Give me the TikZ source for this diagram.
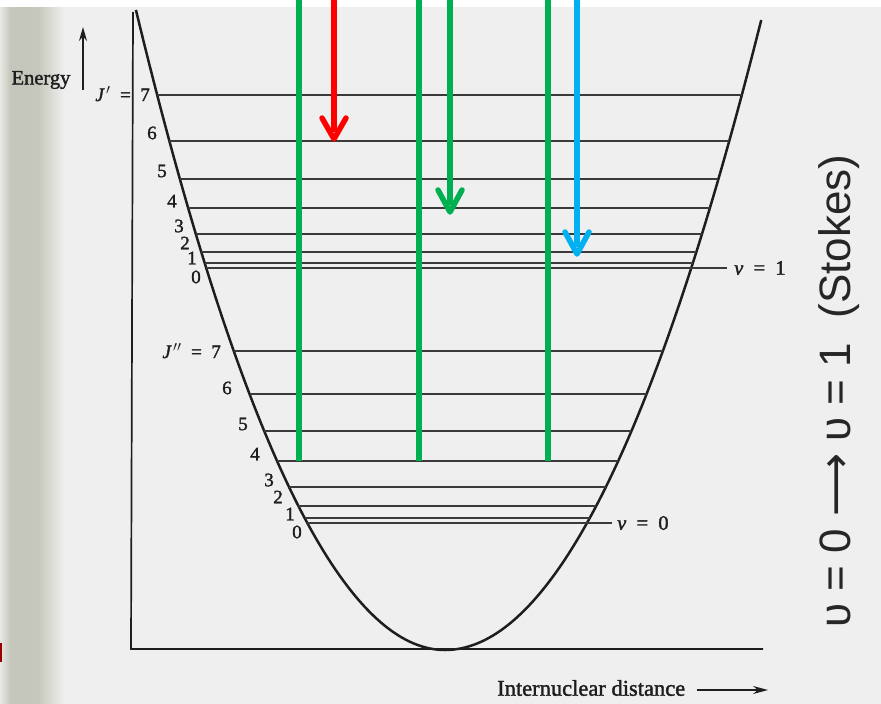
\documentclass[tikz,border=0pt]{standalone}
\usepackage{fontspec}
\setmainfont{Liberation Serif}
\newfontfamily\scan{Liberation Serif}[FakeBold=1.6]
\newfontfamily\sansf{Liberation Sans}
\newfontfamily\dejavu{DejaVu Sans}
\usetikzlibrary{arrows.meta}
\definecolor{paper}{HTML}{EFEFEF}
\definecolor{shadow}{HTML}{C6C7BC}
\definecolor{ink}{HTML}{1E1E1E}
\definecolor{lev}{HTML}{3A3A3A}
\definecolor{gr}{HTML}{00B050}
\definecolor{rd}{HTML}{FF0000}
\definecolor{bl}{HTML}{00B0F0}
\newcommand{\eqsp}{\hspace{0.5em}}
\tikzset{
  level/.style={draw=lev, line width=1.3pt},
  curve/.style={draw=ink, line width=2.5pt, line join=round},
  axis/.style={draw=ink, line width=1.7pt},
  num/.style={inner sep=0pt, font=\scan\fontsize{19}{19}\selectfont, text=ink},
  lbl/.style={inner sep=0pt, font=\scan\fontsize{20.5}{20.5}\selectfont, text=ink},
  beam/.style={line width=5.5pt, line cap=round, line join=round},
}
\begin{document}
\begin{tikzpicture}[x=1pt,y=-1pt]
\useasboundingbox (0,0) rectangle (881,704);
% paper
\fill[white] (0,0) rectangle (881,704);
\fill[paper] (0,7) rectangle (881,704);
\shade[left color=white!60!shadow, right color=shadow] (0,7) rectangle (10,704);
\fill[shadow] (10,7) rectangle (38,704);
\shade[left color=shadow, right color=paper] (38,7) rectangle (64,704);
\fill[red!60!black] (0,643) rectangle (2,662);
% axes
\coordinate (ytop) at (133,12);
\coordinate (orig) at (131,649);
\coordinate (xend) at (763,649);
\draw[axis] (ytop) -- (orig) -- (xend);
% energy arrow
\coordinate (ea) at (83,90);
\coordinate (eb) at (83,27);
\draw[axis, line width=1.6pt, -{Stealth[length=14pt,width=8pt]}] (ea) -- (eb);
\node[lbl] (energy) at (41,80) {Energy};
% potential curve
\draw[curve] plot[domain=25.3:0, samples=80] ({445-12.217*\x},{650-\x*\x})
            -- plot[domain=0:25.1, samples=80] ({445+12.599*\x},{650-\x*\x});
% upper levels J'
\foreach \yy in {95,141,179,208,234,252,263}
  \draw[level] ({445-12.217*sqrt(650-\yy)},\yy) -- ({445+12.599*sqrt(650-\yy)},\yy);
\coordinate (vone) at (727,268);
\draw[level] ({445-12.217*sqrt(382)},268) -- (vone);
% lower levels J''
\foreach \yy in {351,394,431,461,487,506,518}
  \draw[level] ({445-12.217*sqrt(650-\yy)},\yy) -- ({445+12.599*sqrt(650-\yy)},\yy);
\coordinate (vzero) at (612,523);
\draw[level] ({445-12.217*sqrt(127)},523) -- (vzero);
% labels upper
\node[num, anchor=east] (Jp) at (150,94) {\textit{J}\kern1.5pt$'$\eqsp=\eqsp7};
\node[num] (u6) at (152,133) {6};
\node[num] (u5) at (162,171) {5};
\node[num] (u4) at (172,201) {4};
\node[num] (u3) at (179,226) {3};
\node[num] (u2) at (185,243) {2};
\node[num] (u1) at (192,258) {1};
\node[num] (u0) at (196,277) {0};
% labels lower
\node[num, anchor=east] (Jpp) at (221,351) {\textit{J}\kern1.5pt$''$\eqsp=\eqsp7};
\node[num] (l6) at (227,388) {6};
\node[num] (l5) at (243,424) {5};
\node[num] (l4) at (255,454) {4};
\node[num] (l3) at (269,480) {3};
\node[num] (l2) at (278,497) {2};
\node[num] (l1) at (290,514) {1};
\node[num] (l0) at (297,532) {0};
% v labels
\node[lbl, anchor=west] (v1) at (734,268) {\textit{v}\eqsp=\eqsp1};
\node[lbl, anchor=west] (v0) at (617,523) {\textit{v}\eqsp=\eqsp0};
% x-axis label
\node[lbl, anchor=west, font=\scan\fontsize{22.5}{22.5}\selectfont] (idist) at (497,688) {Internuclear distance};
\coordinate (xa) at (697,690);
\coordinate (xb) at (768,690);
\draw[axis, line width=1.4pt, -{Stealth[length=15pt,width=8pt]}] (xa) -- (xb);
% green beams (pump, no head)
\foreach \xx/\nm in {299/ga,419/gb,548/gc}{
  \coordinate (\nm s) at (\xx,0);
  \coordinate (\nm e) at (\xx,461);
  \draw[beam, gr, line cap=butt] (\nm s) -- (\nm e);
}
% red arrow
\coordinate (rs) at (334,0);
\coordinate (rt) at (334,139);
\draw[beam, rd, line cap=butt] (rs) -- (334,132);
\draw[beam, rd] (322,118) -- (rt) -- (346,118);
% green arrow
\coordinate (gs) at (450,0);
\coordinate (gt) at (450,212);
\draw[beam, gr, line cap=butt] (gs) -- (450,205);
\draw[beam, gr] (438,190) -- (gt) -- (462,190);
% blue arrow
\coordinate (bs) at (577,0);
\coordinate (bt) at (577,254);
\draw[beam, bl, line cap=butt] (bs) -- (577,247);
\draw[beam, bl] (565,232) -- (bt) -- (589,232);
% rotated caption
\node[rotate=90, inner sep=0pt, text=black!85, font=\sansf\fontsize{44}{44}\selectfont] (cap) at (839,391)
  {υ = 0 {\dejavu ⟶} υ = 1 \ (Stokes)};
\end{tikzpicture}
\end{document}
